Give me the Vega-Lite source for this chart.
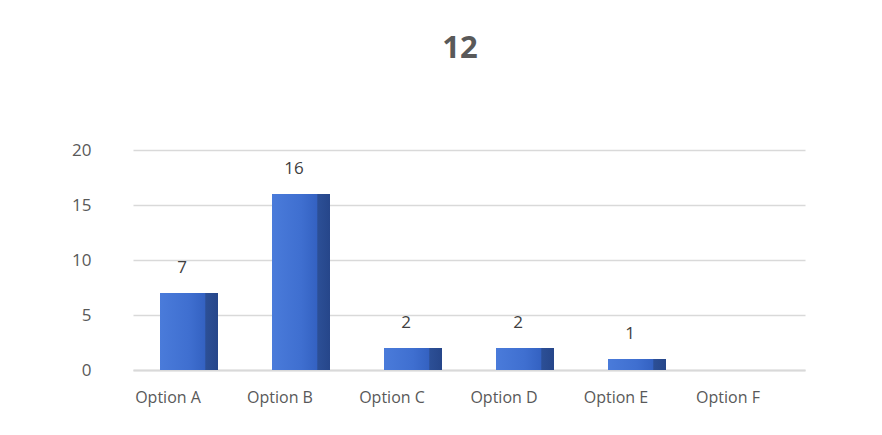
{
  "$schema": "https://vega.github.io/schema/vega-lite/v6.json",
  "autosize": {"type": "none"},
  "width": 672,
  "height": 220,
  "padding": {"left": 133, "top": 150, "right": 77, "bottom": 65},
  "background": "white",
  "title": {
    "text": "12",
    "fontSize": 31,
    "fontWeight": "bold",
    "color": "#595959",
    "font": "Open Sans",
    "offset": 76,
    "dx": -9
  },
  "data": {
    "values": [
      {"option": "Option A", "value": 7},
      {"option": "Option B", "value": 16},
      {"option": "Option C", "value": 2},
      {"option": "Option D", "value": 2},
      {"option": "Option E", "value": 1},
      {"option": "Option F", "value": 0}
    ]
  },
  "encoding": {
    "x": {
      "field": "option",
      "type": "nominal",
      "sort": null,
      "axis": {
        "title": null,
        "labelAngle": 0,
        "labelFontSize": 16,
        "labelFont": "Open Sans",
        "labelColor": "#595959",
        "labelPadding": 19,
        "labelOffset": -21,
        "ticks": false,
        "domainColor": "#D9D9D9",
        "domainWidth": 2
      }
    },
    "y": {
      "field": "value",
      "type": "quantitative",
      "scale": {"domain": [0, 20]},
      "axis": {
        "title": null,
        "values": [0, 5, 10, 15, 20],
        "labelFontSize": 17,
        "labelFont": "Open Sans",
        "labelColor": "#595959",
        "labelPadding": 42,
        "ticks": false,
        "domain": false,
        "gridColor": "#D9D9D9",
        "gridWidth": 1.5
      }
    }
  },
  "layer": [
    {
      "mark": {
        "type": "bar",
        "size": 58,
        "color": {
          "x1": 0, "y1": 0, "x2": 1, "y2": 0,
          "gradient": "linear",
          "stops": [
            {"offset": 0, "color": "#4A7BDA"},
            {"offset": 0.5, "color": "#3F6FD0"},
            {"offset": 0.77, "color": "#3462C2"},
            {"offset": 0.79, "color": "#2C4F96"},
            {"offset": 1, "color": "#26468A"}
          ]
        }
      }
    },
    {
      "transform": [{"filter": "datum.value > 0"}],
      "mark": {
        "type": "text",
        "baseline": "bottom",
        "dy": -16,
        "dx": -7,
        "fontSize": 17,
        "font": "Open Sans",
        "color": "#404040"
      },
      "encoding": {
        "text": {"field": "value", "type": "quantitative"}
      }
    }
  ],
  "config": {"view": {"stroke": null}}
}
